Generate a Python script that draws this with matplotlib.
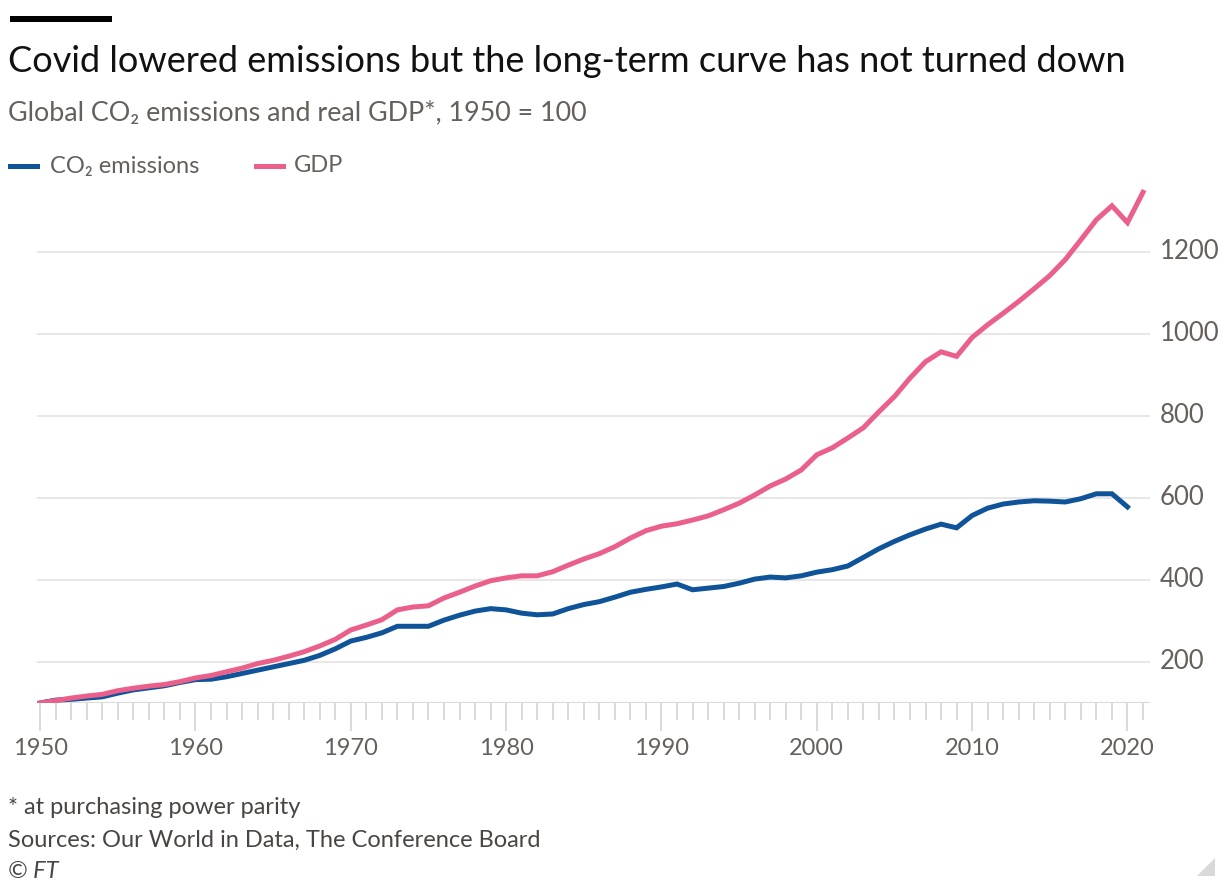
import numpy as np
import matplotlib
matplotlib.use("Agg")
import matplotlib.pyplot as plt
from matplotlib.patches import Polygon

plt.rcParams['font.family'] = ['Lato', 'Noto Sans', 'DejaVu Sans']

years = list(range(1950, 2022))

# index values, 1950 = 100 (CO2 series ends in 2020)
co2 = [100, 107, 109, 112, 115, 124, 132, 137, 142, 150,
       157, 158, 164, 172, 180, 188, 196, 204, 216, 232,
       251, 260, 271, 287, 287, 287, 302, 314, 324, 330,
       327, 319, 315, 317, 330, 340, 347, 358, 370, 377,
       383, 390, 376, 380, 384, 392, 402, 407, 405, 410,
       419, 425, 434, 455, 476, 494, 510, 524, 536, 527,
       557, 575, 585, 590, 593, 592, 590, 598, 610, 610,
       578]
gdp = [100, 106, 112, 117, 121, 130, 136, 141, 145, 152,
       161, 167, 176, 185, 196, 204, 214, 225, 239, 255,
       278, 290, 303, 327, 334, 337, 356, 370, 385, 398,
       405, 410, 410, 420, 436, 451, 464, 481, 502, 520,
       531, 537, 546, 556, 571, 587, 607, 629, 646, 668,
       705, 722, 746, 771, 810, 847, 892, 932, 956, 945,
       991, 1022, 1050, 1079, 1110, 1142, 1181, 1229, 1278, 1312,
       1271, 1345]

yticks = [200, 400, 600, 800, 1000, 1200]
decades = [1950, 1960, 1970, 1980, 1990, 2000, 2010, 2020]

BLUE = '#0f5499'
PINK = '#eb5f8b'
GREY = '#66605c'
GRID = '#e7e5e3'

W, H = 1226, 882
fig = plt.figure(figsize=(W / 100, H / 100), dpi=100)
fig.patch.set_facecolor('white')

def fx(px):
    return px / W

def fy(py):
    return 1 - py / H

# black rule above the title
fig.add_artist(plt.Rectangle((fx(10), fy(22)), fx(102), 6 / H,
                             color='black', lw=0, transform=fig.transFigure))

fig.text(fx(8), fy(61), 'Covid lowered emissions but the long-term curve has not turned down',
         fontsize=26, color='#111111', va='center', ha='left')
fig.text(fx(8), fy(113), 'Global CO₂ emissions and real GDP*, 1950 = 100',
         fontsize=19.4, color=GREY, va='center', ha='left')

# legend
fig.add_artist(plt.Line2D([fx(10), fx(37)], [fy(166), fy(166)], color=BLUE, lw=3.6,
                          transform=fig.transFigure))
fig.text(fx(50), fy(166), 'CO₂ emissions', fontsize=17, color=GREY, va='center')
fig.add_artist(plt.Line2D([fx(256), fx(283)], [fy(166), fy(166)], color=PINK, lw=3.6,
                          transform=fig.transFigure))
fig.text(fx(294), fy(166), 'GDP', fontsize=17, color=GREY, va='center')

# plot area
left, right, top, bottom = 37, 1150, 182, 703
ax = fig.add_axes([fx(left), fy(bottom), fx(right - left), (bottom - top) / H])
ax.set_facecolor('none')

ax.plot(years[:len(co2)], co2, color=BLUE, lw=3.6, solid_joinstyle='miter', zorder=3)
ax.plot(years, gdp, color=PINK, lw=3.6, solid_joinstyle='miter', zorder=3)

ax.set_xlim(1949.8, 2021.45)
ax.set_ylim(100, 1370)

for v in yticks:
    ax.axhline(v, color=GRID, lw=1.3, zorder=1)
ax.axhline(100, color='#dcd9d6', lw=1.5, zorder=1)

for s in ax.spines.values():
    s.set_visible(False)

ax.yaxis.tick_right()
ax.set_yticks(yticks)
ax.set_yticklabels([str(v) for v in yticks])
ax.tick_params(axis='y', length=0, pad=7, labelsize=18.5, labelcolor=GREY)
for lab in ax.get_yticklabels():
    lab.set_verticalalignment('center')

ax.set_xticks(decades)
ax.set_xticklabels([str(d) for d in decades])
ax.set_xticks(years, minor=True)
ax.tick_params(axis='x', which='major', length=20, width=1.2, color='#d6d3d0',
               labelsize=17, labelcolor=GREY, pad=5)
ax.tick_params(axis='x', which='minor', length=12, width=1.2, color='#d6d3d0')

# footer
fig.text(fx(8), fy(808), '* at purchasing power parity', fontsize=17, color='#4a4542', va='center')
fig.text(fx(8), fy(840), 'Sources: Our World in Data, The Conference Board', fontsize=17,
         color='#4a4542', va='center')
fig.text(fx(8), fy(872), '© FT', fontsize=17, color='#4a4542', va='center', style='italic')

# little corner mark
fig.add_artist(Polygon([[fx(1215), fy(858)], [fx(1215), fy(876)], [fx(1197), fy(876)]],
                       closed=True, color='#d9d9d9', lw=0, transform=fig.transFigure))

fig.savefig('out.png', dpi=100, facecolor='white')
